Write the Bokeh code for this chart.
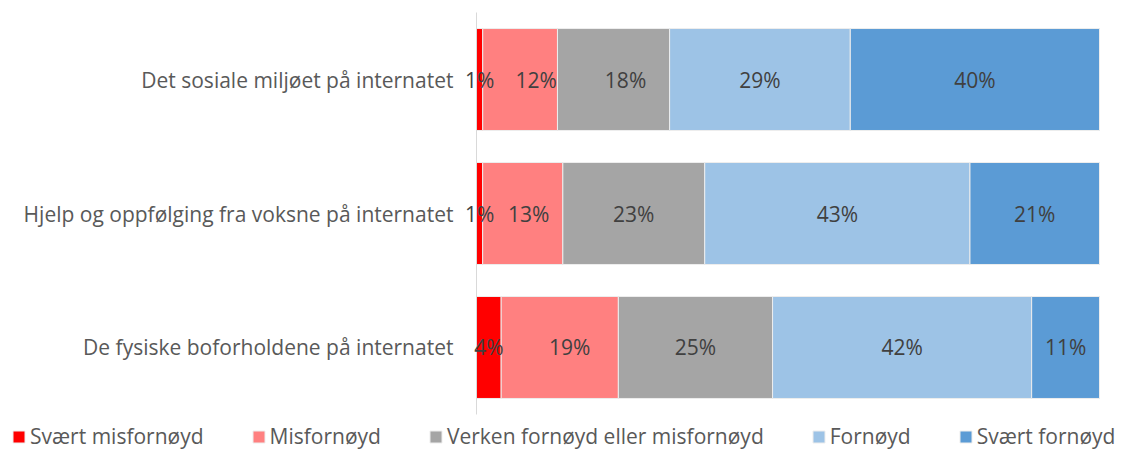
from bokeh.plotting import figure
from bokeh.models import ColumnDataSource, Legend, LegendItem, Range1d
from bokeh.embed import file_html
from bokeh.resources import INLINE
from bokeh.core.properties import value

categories = [
    "Det sosiale miljøet på internatet",
    "Hjelp og oppfølging fra voksne på internatet",
    "De fysiske boforholdene på internatet",
]
series = [
    "Svært misfornøyd",
    "Misfornøyd",
    "Verken fornøyd eller misfornøyd",
    "Fornøyd",
    "Svært fornøyd",
]
svaert_misfornoyd = [1, 1, 4]
misfornoyd = [12, 13, 19]
verken = [18, 23, 25]
fornoyd = [29, 43, 42]
svaert_fornoyd = [40, 21, 11]
colors = ["#FF0000", "#FF8080", "#A5A5A5", "#9DC3E6", "#5B9BD5"]

# label nudges (screen px) per series, per category, as placed in the original
label_nudge = [
    [0, 0, 0],
    [16, 6, 10],
    [12, 0, 0],
    [0, 0, 0],
    [0, 0, 0],
]

FONT = "Open Sans"
FS = "21px"
values = [svaert_misfornoyd, misfornoyd, verken, fornoyd, svaert_fornoyd]
n = len(categories)
ypos = [n - 1 - i for i in range(n)]
totals = [sum(v[i] for v in values) for i in range(n)]

p = figure(width=1129, height=450, output_backend="svg", toolbar_location=None,
           x_range=Range1d(-76.40, 104.815), y_range=Range1d(-0.7687, 2.5896),
           x_axis_type=None, y_axis_type=None,
           min_border_left=0, min_border_right=0, min_border_top=0, min_border_bottom=0)
p.outline_line_color = None
p.background_fill_color = "white"
p.border_fill_color = "white"

left = [0.0] * n
items = []
lab = dict(x=[], y=[], t=[], dx=[])
for s, vals, c, nudge in zip(series, values, colors, label_nudge):
    shares = [vals[i] / totals[i] * 100 for i in range(n)]
    right = [left[i] + shares[i] for i in range(n)]
    src = ColumnDataSource(dict(y=ypos, left=left, right=right))
    r = p.hbar(y="y", left="left", right="right", height=0.761, source=src,
               fill_color=c, line_color="#EDEDED", line_width=1)
    items.append(LegendItem(label=s, renderers=[r]))
    for i in range(n):
        lab["x"].append((left[i] + right[i]) / 2)
        lab["y"].append(ypos[i])
        lab["t"].append(f"{vals[i]}%")
        lab["dx"].append(nudge[i])
    left = right

# category axis: line at x=0 and category labels to its left
p.segment(x0=[0], x1=[0], y0=[-0.5], y1=[n - 0.5], line_color="#D9D9D9", line_width=1)
p.text(x=[-3.7] * n, y=ypos, text=categories, text_align="right", text_baseline="middle",
       text_font=value(FONT), text_font_size=FS, text_color="#595959")

# data labels
p.text(x="x", y="y", text="t", x_offset="dx", source=ColumnDataSource(lab),
       text_align="center", text_baseline="middle",
       text_font=value(FONT), text_font_size=FS, text_color="#404040")

legend = Legend(items=items, orientation="horizontal", location=(11, 0),
                glyph_width=15, glyph_height=15, label_standoff=4, spacing=47,
                padding=0, margin=0, border_line_color=None, background_fill_alpha=0,
                label_text_font=FONT, label_text_font_size=FS,
                label_text_color="#595959", label_height=23)
p.add_layout(legend)

open("out.html", "w").write(file_html(p, INLINE))
